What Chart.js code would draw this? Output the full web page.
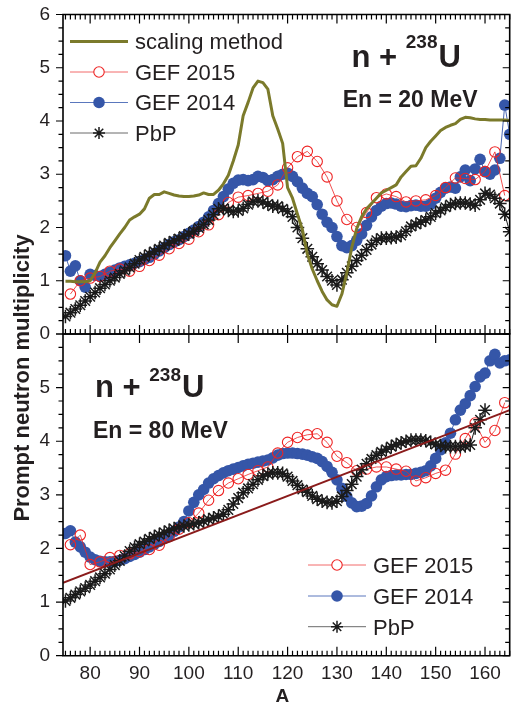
<!DOCTYPE html>
<html>
<head>
<meta charset="utf-8">
<title>Prompt neutron multiplicity, n + 238U</title>
<script src="https://cdn.jsdelivr.net/npm/chart.js@4.4.1/dist/chart.umd.min.js"></script>
<style>
  html, body { margin: 0; padding: 0; background: #ffffff; }
  #wrap { position: relative; width: 518px; height: 704px; }
  #wrap canvas { position: absolute; left: 0; top: 0; }
</style>
</head>
<body>
<div id="wrap">
  <canvas id="panel20" width="518" height="704"></canvas>
  <canvas id="panel80" width="518" height="704"></canvas>
</div>
<script>
// ---- mass numbers ----
const massNumbers = [
  75, 76, 77, 78, 79, 80, 81, 82, 83, 84,
  85, 86, 87, 88, 89, 90, 91, 92, 93, 94,
  95, 96, 97, 98, 99, 100, 101, 102, 103, 104,
  105, 106, 107, 108, 109, 110, 111, 112, 113, 114,
  115, 116, 117, 118, 119, 120, 121, 122, 123, 124,
  125, 126, 127, 128, 129, 130, 131, 132, 133, 134,
  135, 136, 137, 138, 139, 140, 141, 142, 143, 144,
  145, 146, 147, 148, 149, 150, 151, 152, 153, 154,
  155, 156, 157, 158, 159, 160, 161, 162, 163, 164,
  165
];
const evenMass = [
  76, 78, 80, 82, 84, 86, 88, 90, 92, 94,
  96, 98, 100, 102, 104, 106, 108, 110, 112, 114,
  116, 118, 120, 122, 124, 126, 128, 130, 132, 134,
  136, 138, 140, 142, 144, 146, 148, 150, 152, 154,
  156, 158, 160, 162, 164
];

// ---- En = 20 MeV ----
const scaling20 = [
  0.99, 0.99, 0.98, 0.98, 0.98, 1.00, 1.15, 1.35, 1.47, 1.62,
  1.75, 1.88, 2.00, 2.14, 2.20, 2.25, 2.35, 2.55, 2.62, 2.62,
  2.67, 2.64, 2.61, 2.59, 2.58, 2.58, 2.59, 2.61, 2.65, 2.62,
  2.62, 2.70, 2.82, 2.98, 3.25, 3.55, 4.10, 4.35, 4.62, 4.75,
  4.72, 4.60, 4.10, 3.85, 3.58, 2.75, 2.55, 2.25, 1.96, 1.50,
  1.22, 1.00, 0.80, 0.64, 0.55, 0.52, 0.75, 1.15, 1.62, 1.98,
  2.20, 2.35, 2.45, 2.55, 2.65, 2.70, 2.75, 2.80, 2.95, 3.05,
  3.15, 3.16, 3.30, 3.50, 3.62, 3.72, 3.82, 3.88, 3.92, 3.95,
  4.03, 4.07, 4.06, 4.04, 4.03, 4.03, 4.02, 4.02, 4.02, 4.02,
  4.01
];
const pbp20 = [
  0.33, 0.40, 0.47, 0.54, 0.62, 0.70, 0.78, 0.86, 0.93, 1.00,
  1.06, 1.13, 1.19, 1.25, 1.32, 1.39, 1.45, 1.50, 1.55, 1.60,
  1.66, 1.71, 1.75, 1.79, 1.84, 1.88, 1.93, 1.99, 2.06, 2.14,
  2.24, 2.35, 2.36, 2.32, 2.30, 2.31, 2.36, 2.43, 2.49, 2.50,
  2.48, 2.44, 2.40, 2.40, 2.35, 2.30, 2.20, 2.00, 1.80, 1.60,
  1.45, 1.32, 1.20, 1.08, 1.00, 0.92, 1.02, 1.15, 1.27, 1.38,
  1.48, 1.58, 1.68, 1.76, 1.80, 1.80, 1.81, 1.82, 1.85, 1.93,
  2.02, 2.06, 2.10, 2.14, 2.20, 2.27, 2.32, 2.38, 2.43, 2.45,
  2.46, 2.46, 2.44, 2.42, 2.52, 2.64, 2.62, 2.55, 2.45, 2.25,
  1.92
];
const gef2014_20 = [
  1.47, 1.18, 1.28, 1.00, 0.88, 1.12, 1.10, 1.08, 1.12, 1.16,
  1.20, 1.24, 1.27, 1.30, 1.33, 1.36, 1.40, 1.44, 1.50, 1.56,
  1.62, 1.68, 1.73, 1.77, 1.83, 1.89, 1.95, 2.02, 2.10, 2.20,
  2.32, 2.45, 2.58, 2.72, 2.83, 2.89, 2.90, 2.88, 2.90, 2.96,
  2.94, 2.88, 2.90, 2.96, 3.00, 3.02, 2.96, 2.86, 2.74, 2.64,
  2.58, 2.43, 2.25, 2.10, 2.00, 1.83, 1.66, 1.62, 1.66, 1.76,
  1.88, 2.04, 2.20, 2.32, 2.40, 2.45, 2.46, 2.44, 2.40, 2.39,
  2.41, 2.42, 2.40, 2.40, 2.44, 2.55, 2.66, 2.74, 2.76, 2.74,
  2.95, 3.08, 2.88, 3.10, 3.28, 3.05, 3.00, 3.08, 3.30, 4.30,
  3.75
];
const gef2015_20 = [
  0.75, 1.00, 1.05, 1.08, 1.18, 1.22, 1.18, 1.27, 1.38, 1.48,
  1.60, 1.70, 1.78, 1.92, 2.05, 2.24, 2.47, 2.57, 2.60, 2.64,
  2.68, 2.80, 3.12, 3.33, 3.43, 3.24, 2.95, 2.50, 2.15, 2.00,
  2.28, 2.56, 2.63, 2.58, 2.48, 2.50, 2.52, 2.60, 2.75, 2.93,
  2.92, 2.90, 3.05, 3.42, 2.60
];

// ---- En = 80 MeV ----
const pbp80 = [
  1.02, 1.08, 1.14, 1.20, 1.26, 1.32, 1.39, 1.46, 1.53, 1.61,
  1.69, 1.77, 1.86, 1.95, 2.02, 2.08, 2.13, 2.18, 2.22, 2.26,
  2.30, 2.34, 2.37, 2.40, 2.42, 2.44, 2.46, 2.48, 2.51, 2.54,
  2.57, 2.60, 2.64, 2.72, 2.83, 2.94, 3.04, 3.12, 3.20, 3.28,
  3.35, 3.39, 3.41, 3.41, 3.40, 3.34, 3.26, 3.18, 3.10, 3.05,
  2.98, 2.92, 2.88, 2.86, 2.85, 2.88, 2.97, 3.08, 3.20, 3.34,
  3.47, 3.58, 3.67, 3.74, 3.80, 3.85, 3.90, 3.94, 3.97, 4.00,
  4.02, 4.02, 4.02, 4.01, 3.98, 3.94, 3.92, 3.90, 3.90, 3.90,
  3.90, 3.91, 3.93, 4.25, 4.40, 4.58
];
const gef2014_80 = [
  2.28, 2.33, 2.12, 2.03, 1.93, 1.84, 1.79, 1.76, 1.75, 1.75,
  1.76, 1.78, 1.81, 1.85, 1.89, 1.93, 1.98, 2.03, 2.08, 2.13,
  2.19, 2.25, 2.32, 2.40, 2.50, 2.70, 2.86, 3.00, 3.10, 3.22,
  3.30, 3.36, 3.41, 3.45, 3.48, 3.51, 3.54, 3.57, 3.59, 3.61,
  3.63, 3.65, 3.69, 3.74, 3.77, 3.78, 3.78, 3.77, 3.76, 3.74,
  3.71, 3.68, 3.62, 3.53, 3.42, 3.28, 3.12, 2.97, 2.85, 2.78,
  2.79, 2.84, 2.98, 3.15, 3.28, 3.34, 3.36, 3.37, 3.37, 3.38,
  3.38, 3.40, 3.42, 3.45, 3.54, 3.68, 3.84, 3.97, 4.15, 4.40,
  4.58, 4.70, 4.85, 5.02, 5.20, 5.27, 5.50, 5.62, 5.46, 5.50,
  5.52
];
const gef2015_80 = [
  2.07, 2.25, 1.70, 1.75, 1.83, 1.87, 1.90, 1.94, 1.98, 2.06,
  2.22, 2.36, 2.48, 2.66, 2.90, 3.08, 3.22, 3.30, 3.38, 3.45,
  3.52, 3.78, 3.98, 4.07, 4.12, 4.14, 3.98, 3.72, 3.60, 3.45,
  3.48, 3.52, 3.52, 3.48, 3.44, 3.26, 3.32, 3.40, 3.46, 3.76,
  4.05, 4.34, 3.98, 4.20, 4.72
];
// linear trend through the 80 MeV multiplicities
const trendMass = [74.5, 165];
const trend80 = [1.36, 4.58];

// ---- axis ticks ----
const massTicks = [80, 90, 100, 110, 120, 130, 140, 150, 160];
const nuTicks = [0, 1, 2, 3, 4, 5, 6];

// ---- styling ----
const INK = '#231f20';
const FONT = '"Liberation Sans", Arial, Helvetica, sans-serif';
const OLIVE = '#7b7a2b';
const RED = '#ee2424';
const BLUE = '#3556a8';
const BLACK = '#1b1b1b';
const TREND = '#8a1b1b';

const pairs = (xs, ys) => ys.map((y, i) => ({ x: xs[i], y }));

function gefSeries(label, xs, ys, color, order) {
  return {
    label, data: pairs(xs, ys), order,
    borderColor: color, borderWidth: 0.9,
    pointStyle: 'circle', pointRadius: 5.8,
    pointBackgroundColor: color, pointBorderWidth: 0
  };
}
function gefOpenSeries(label, xs, ys, order) {
  return {
    label, data: pairs(xs, ys), order,
    borderColor: RED, borderWidth: 0.8,
    pointStyle: 'circle', pointRadius: 5.2,
    pointBackgroundColor: 'rgba(255,255,255,0)',
    pointBorderColor: RED, pointBorderWidth: 1.1
  };
}
function pbpSeries(xs, ys, order) {
  return {
    label: 'PbP', data: pairs(xs, ys), order,
    borderColor: BLACK, borderWidth: 1,
    pointStyle: 'star', pointRadius: 6.8,
    pointBorderColor: BLACK, pointBorderWidth: 1.5,
    pointBackgroundColor: BLACK
  };
}

// frame plus tick marks, located through the chart's scales
function axisFrame(chart, topTicks) {
  const ctx = chart.ctx;
  const area = chart.chartArea;
  const sx = chart.scales.x;
  const sy = chart.scales.y;
  ctx.save();
  ctx.strokeStyle = '#000000';
  ctx.lineWidth = 1.2;
  ctx.beginPath();
  for (let m = 75; m <= 165; m++) {
    const px = sx.getPixelForValue(m);
    const major = m % 10 === 0;
    const len = major ? 9 : 5;
    if (topTicks === 'all' || (topTicks === 'major' && major)) {
      ctx.moveTo(px, area.top); ctx.lineTo(px, area.top + len);
    }
    ctx.moveTo(px, area.bottom); ctx.lineTo(px, area.bottom - len);
  }
  for (let k = 0; k <= 24; k++) {
    const py = sy.getPixelForValue(k * 0.25);
    const len = k % 4 === 0 ? 7 : 4.5;
    ctx.moveTo(area.left, py); ctx.lineTo(area.left - len, py);
    ctx.moveTo(area.right, py); ctx.lineTo(area.right - len, py);
  }
  ctx.stroke();
  ctx.lineWidth = 1.6;
  ctx.beginPath();
  ctx.rect(area.left, area.top, area.right - area.left, area.bottom - area.top);
  ctx.stroke();
  ctx.restore();
}

function drawMarker(ctx, kind, cx, cy) {
  ctx.save();
  if (kind === 'filled') {
    ctx.fillStyle = BLUE;
    ctx.beginPath(); ctx.arc(cx, cy, 5.8, 0, Math.PI * 2); ctx.fill();
  } else if (kind === 'open') {
    ctx.fillStyle = '#fff'; ctx.strokeStyle = RED; ctx.lineWidth = 1.1;
    ctx.beginPath(); ctx.arc(cx, cy, 5.2, 0, Math.PI * 2); ctx.fill(); ctx.stroke();
  } else if (kind === 'star') {
    ctx.strokeStyle = BLACK; ctx.lineWidth = 1.5;
    ctx.beginPath();
    for (let i = 0; i < 4; i++) {
      const t = i * Math.PI / 4;
      ctx.moveTo(cx - 6 * Math.cos(t), cy - 6 * Math.sin(t));
      ctx.lineTo(cx + 6 * Math.cos(t), cy + 6 * Math.sin(t));
    }
    ctx.stroke();
  }
  ctx.restore();
}

function drawLegend(ctx, rows, x0, x1, textX) {
  ctx.save();
  ctx.font = '22px ' + FONT;
  ctx.fillStyle = INK;
  ctx.textBaseline = 'alphabetic';
  ctx.textAlign = 'left';
  rows.forEach(r => {
    ctx.strokeStyle = r.line; ctx.lineWidth = r.width;
    ctx.beginPath(); ctx.moveTo(x0, r.y); ctx.lineTo(x1, r.y); ctx.stroke();
    if (r.marker) drawMarker(ctx, r.marker, (x0 + x1) / 2, r.y);
    ctx.fillText(r.text, textX, r.y + 7.8);
  });
  ctx.restore();
}

function drawNuclide(ctx, x, base, supBase) {
  ctx.save();
  ctx.fillStyle = INK;
  ctx.textAlign = 'left';
  ctx.textBaseline = 'alphabetic';
  ctx.font = 'bold 31px ' + FONT;
  ctx.fillText('n + ', x, base);
  let cx = x + ctx.measureText('n + ').width;
  ctx.font = 'bold 19px ' + FONT;
  ctx.fillText('238', cx, supBase);
  cx += ctx.measureText('238').width + 1;
  ctx.font = 'bold 31px ' + FONT;
  ctx.fillText('U', cx, base);
  ctx.restore();
}

function drawBold(ctx, text, x, base, size) {
  ctx.save();
  ctx.fillStyle = INK;
  ctx.textAlign = 'left';
  ctx.textBaseline = 'alphabetic';
  ctx.font = 'bold ' + size + 'px ' + FONT;
  ctx.fillText(text, x, base);
  ctx.restore();
}

const decor20 = {
  id: 'decor20',
  afterDraw(chart) {
    const ctx = chart.ctx;
    axisFrame(chart, 'all');
    drawLegend(ctx, [
      { y: 41.5, line: OLIVE, width: 3, text: 'scaling method' },
      { y: 72, line: '#f26b6b', width: 1, marker: 'open', text: 'GEF 2015' },
      { y: 102.5, line: '#5a77bd', width: 1, marker: 'filled', text: 'GEF 2014' },
      { y: 133, line: '#6a6a6a', width: 1, marker: 'star', text: 'PbP' }
    ], 70, 128, 135);
    drawNuclide(ctx, 351.5, 66.7, 48.3);
    drawBold(ctx, 'En = 20 MeV', 342.7, 106.7, 23);
  }
};

const decor80 = {
  id: 'decor80',
  afterDraw(chart) {
    const ctx = chart.ctx;
    axisFrame(chart, 'major');
    drawLegend(ctx, [
      { y: 565, line: '#f26b6b', width: 1, marker: 'open', text: 'GEF 2015' },
      { y: 596, line: '#5a77bd', width: 1, marker: 'filled', text: 'GEF 2014' },
      { y: 626.7, line: '#6a6a6a', width: 1, marker: 'star', text: 'PbP' }
    ], 308, 366, 373);
    drawNuclide(ctx, 95, 396.7, 380.5);
    drawBold(ctx, 'En = 80 MeV', 93, 438.3, 23);
    // axis titles
    ctx.save();
    ctx.fillStyle = INK;
    ctx.font = 'bold 22px ' + FONT;
    ctx.textAlign = 'center';
    ctx.textBaseline = 'alphabetic';
    ctx.translate(29, 378);
    ctx.rotate(-Math.PI / 2);
    ctx.fillText('Prompt neutron multiplicity', 0, 0);
    ctx.restore();
    drawBold(ctx, 'A', 275.5, 701.5, 19);
  }
};

function yAxis(hideTop) {
  return {
    type: 'linear', position: 'left', min: 0, max: 6,
    afterBuildTicks: s => { s.ticks = nuTicks.map(v => ({ value: v })); },
    afterFit: s => { s.width = 63; },
    grid: { display: false, drawTicks: true, tickLength: 13, tickColor: 'rgba(0,0,0,0)' },
    border: { display: false },
    ticks: {
      padding: 0, color: INK, font: { family: FONT, size: 19 },
      callback: v => (hideTop && v === 6) ? '' : String(v)
    }
  };
}

function xAxis(show) {
  return {
    type: 'linear', position: 'bottom', min: 74.5, max: 165, display: show,
    afterBuildTicks: s => { s.ticks = massTicks.map(v => ({ value: v })); },
    afterFit: s => { s.height = show ? 48.3 : 0; },
    grid: { display: false, drawTicks: true, tickLength: 7, tickColor: 'rgba(0,0,0,0)' },
    border: { display: false },
    ticks: {
      padding: 0, color: INK, font: { family: FONT, size: 19 },
      maxRotation: 0, autoSkip: false
    }
  };
}

const common = {
  responsive: false,
  animation: false,
  events: [],
  plugins: { legend: { display: false }, tooltip: { enabled: false } },
  elements: { line: { tension: 0 } }
};

new Chart(document.getElementById('panel20'), {
  type: 'line',
  data: {
    datasets: [
      gefSeries('GEF 2014', massNumbers, gef2014_20, BLUE, 4),
      gefOpenSeries('GEF 2015', evenMass, gef2015_20, 3),
      pbpSeries(massNumbers, pbp20, 2),
      { label: 'scaling method', data: pairs(massNumbers, scaling20), order: 1,
        borderColor: OLIVE, borderWidth: 3, pointRadius: 0, borderJoinStyle: 'round' }
    ]
  },
  options: Object.assign({}, common, {
    layout: { padding: { left: 0, right: 1.2, top: 14.5, bottom: 370 } },
    scales: { x: xAxis(false), y: yAxis(false) }
  }),
  plugins: [decor20]
});

new Chart(document.getElementById('panel80'), {
  type: 'line',
  data: {
    datasets: [
      gefSeries('GEF 2014', massNumbers, gef2014_80, BLUE, 4),
      gefOpenSeries('GEF 2015', evenMass, gef2015_80, 3),
      pbpSeries(massNumbers, pbp80, 2),
      { label: 'trend', data: pairs(trendMass, trend80), order: 1,
        borderColor: TREND, borderWidth: 2, pointRadius: 0 }
    ]
  },
  options: Object.assign({}, common, {
    layout: { padding: { left: 0, right: 1.2, top: 334, bottom: 0 } },
    scales: { x: xAxis(true), y: yAxis(true) }
  }),
  plugins: [decor80]
});
</script>
</body>
</html>
